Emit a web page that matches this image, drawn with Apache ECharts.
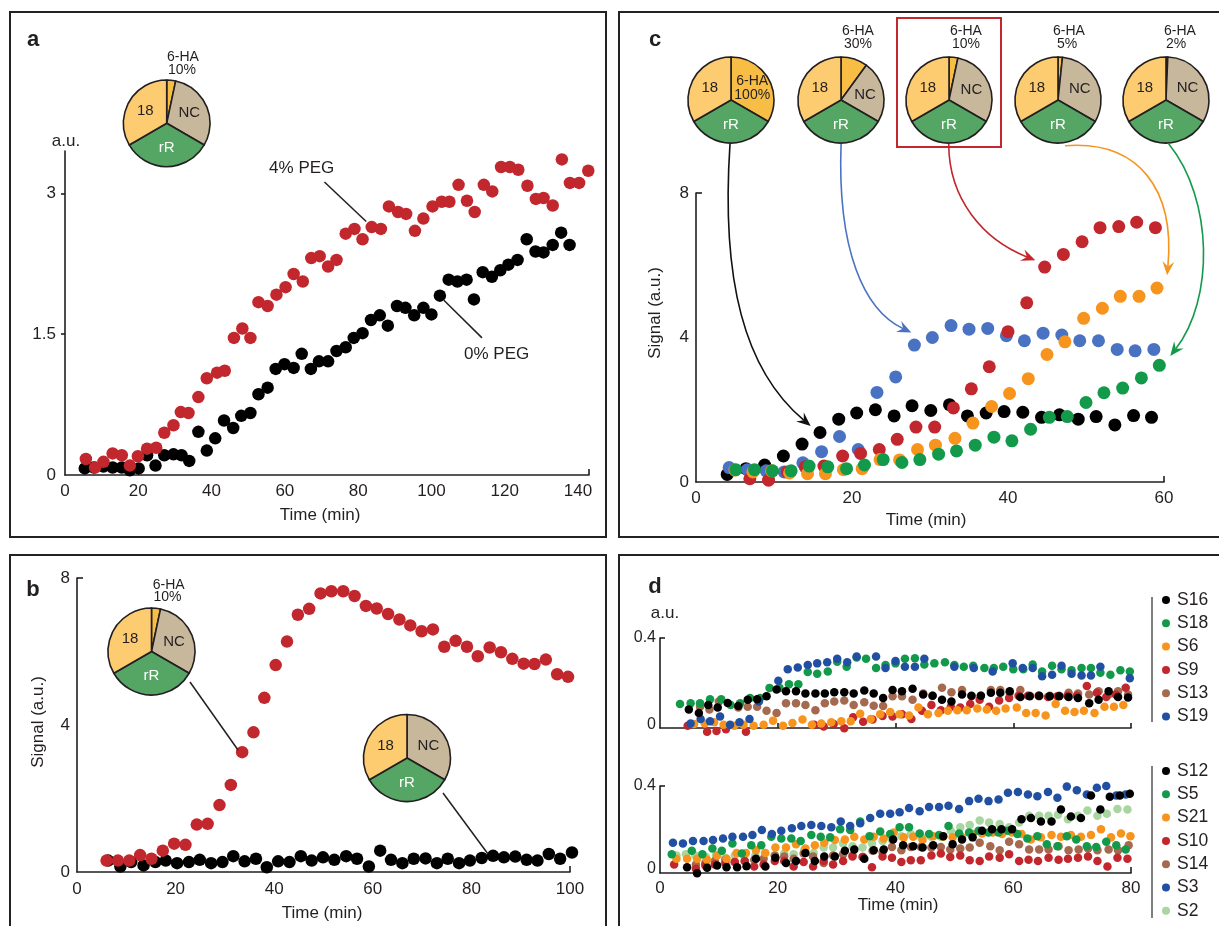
<!DOCTYPE html>
<html><head><meta charset="utf-8">
<script src="https://cdn.jsdelivr.net/npm/echarts@6/dist/echarts.min.js"></script>
<style>html,body{margin:0;padding:0;background:#fff}#c{width:1219px;height:926px}</style>
</head><body><div id="c"></div>
<script>
// ---------- DATA ----------
// panel a (time in min, signal a.u.)
const aTime4 = [5.7,8.2,10.5,13.0,15.5,17.7,19.9,22.4,24.9,27.1,29.6,31.6,33.7,36.4,38.7,41.5,43.6,46.1,48.4,50.6,52.8,55.3,57.7,60.2,62.4,64.9,67.2,69.5,71.8,74.1,76.6,79.0,81.2,83.7,86.2,88.4,90.9,93.1,95.5,97.8,100.3,102.8,104.9,107.4,109.7,111.8,114.3,116.6,119.0,121.4,123.7,126.2,128.5,130.6,133.1,135.6,137.8,140.3,142.8];
const aPeg4 = [0.17,0.08,0.14,0.23,0.21,0.10,0.20,0.28,0.29,0.45,0.53,0.67,0.66,0.83,1.03,1.09,1.11,1.46,1.56,1.46,1.84,1.80,1.92,2.00,2.14,2.06,2.31,2.33,2.22,2.29,2.57,2.62,2.51,2.64,2.62,2.86,2.80,2.78,2.60,2.73,2.86,2.91,2.91,3.09,2.92,2.80,3.09,3.02,3.28,3.28,3.25,3.08,2.94,2.95,2.87,3.36,3.11,3.11,3.24];
const aTime0 = [5.4,7.9,10.5,13.0,15.5,17.7,20.1,22.4,24.7,27.1,29.6,31.8,33.9,36.4,38.7,41.0,43.4,45.9,48.1,50.6,52.8,55.3,57.5,59.9,62.4,64.6,67.1,69.3,71.8,74.1,76.6,78.8,81.2,83.5,85.9,88.1,90.6,92.9,95.3,97.8,100.0,102.3,104.7,107.1,109.6,111.6,114.0,116.5,118.8,121.0,123.5,126.0,128.4,130.6,133.1,135.4,137.7];
const aPeg0 = [0.07,0.08,0.09,0.08,0.08,0.05,0.07,0.21,0.10,0.21,0.22,0.21,0.15,0.46,0.26,0.39,0.58,0.50,0.63,0.66,0.86,0.93,1.13,1.18,1.14,1.29,1.13,1.21,1.21,1.32,1.36,1.46,1.51,1.65,1.70,1.59,1.80,1.78,1.70,1.78,1.71,1.91,2.08,2.06,2.08,1.87,2.16,2.11,2.18,2.24,2.29,2.51,2.38,2.37,2.45,2.58,2.45];
const aXLabels = [0,20,40,60,80,100,120,140];
const aYLabels = [0,1.5,3];

// panel b
const bTimeHA = [6.0,8.3,10.6,12.8,15.1,17.4,19.7,22.0,24.3,26.5,28.9,31.2,33.5,35.8,38.0,40.3,42.6,44.8,47.1,49.4,51.6,54.0,56.3,58.6,60.8,63.1,65.4,67.6,69.9,72.2,74.5,76.8,79.1,81.3,83.7,86.0,88.3,90.6,92.8,95.1,97.4,99.6];
const bSignalHA = [0.31,0.31,0.31,0.46,0.36,0.58,0.77,0.74,1.29,1.31,1.82,2.37,3.26,3.80,4.74,5.63,6.27,7.00,7.16,7.58,7.64,7.64,7.51,7.24,7.17,7.02,6.87,6.71,6.55,6.60,6.13,6.29,6.13,5.87,6.11,5.98,5.80,5.67,5.66,5.78,5.38,5.31];
const bTimeNo = [6.3,8.8,11.0,13.5,15.9,18.0,20.3,22.7,24.9,27.2,29.5,31.7,34.0,36.3,38.5,40.8,43.1,45.4,47.6,49.9,52.2,54.6,56.8,59.2,61.5,63.7,66.0,68.3,70.7,73.0,75.2,77.5,79.7,82.1,84.4,86.6,88.9,91.2,93.4,95.7,98.0,100.4];
const bSignalNo = [0.31,0.15,0.27,0.18,0.27,0.31,0.24,0.27,0.33,0.24,0.27,0.43,0.29,0.36,0.13,0.29,0.27,0.43,0.31,0.40,0.33,0.43,0.36,0.15,0.58,0.33,0.24,0.36,0.37,0.24,0.36,0.24,0.31,0.38,0.44,0.40,0.42,0.33,0.31,0.49,0.36,0.53];
const bXLabels = [0,20,40,60,80,100];
const bYLabels = [0,4,8];

// panel c (6-HA 100%, 30%, 10%, 5%, 2%)
const cTime100 = [4.0,6.4,8.8,11.2,13.6,15.9,18.3,20.6,23.0,25.4,27.7,30.1,32.5,34.8,37.2,39.5,41.9,44.3,46.6,49.0,51.3,53.7,56.1,58.4];
const cSig100 = [0.21,0.37,0.47,0.72,1.05,1.37,1.74,1.91,2.00,1.83,2.11,1.98,2.14,1.83,1.91,1.95,1.93,1.79,1.86,1.74,1.81,1.58,1.84,1.79];
const cTime30 = [4.25,6.6,9.0,11.3,13.7,16.1,18.4,20.8,23.2,25.6,28.0,30.3,32.7,35.0,37.4,39.8,42.1,44.5,46.9,49.2,51.6,54.0,56.3,58.7];
const cSig30 = [0.40,0.34,0.31,0.28,0.53,0.84,1.26,0.90,2.48,2.91,3.79,4.00,4.33,4.23,4.25,4.05,3.91,4.12,4.07,3.91,3.91,3.67,3.63,3.67];
const cTime10 = [6.9,9.3,11.7,14.0,16.4,18.8,21.1,23.5,25.8,28.2,30.6,33.0,35.3,37.6,40.0,42.4,44.7,47.1,49.5,51.8,54.2,56.5,58.9];
const cSig10 = [0.09,0.05,0.28,0.42,0.44,0.72,0.79,0.90,1.18,1.52,1.52,2.05,2.58,3.19,4.16,4.96,5.95,6.30,6.65,7.04,7.07,7.19,7.04];
const cTime5 = [5.0,7.3,9.7,12.0,14.3,16.6,18.9,21.3,23.6,26.1,28.4,30.7,33.2,35.5,37.9,40.2,42.6,45.0,47.3,49.7,52.1,54.4,56.8,59.1];
const cSig5 = [0.33,0.28,0.31,0.25,0.23,0.23,0.34,0.37,0.62,0.61,0.90,1.02,1.21,1.63,2.09,2.45,2.86,3.53,3.88,4.53,4.81,5.14,5.14,5.37];
const cTime2 = [5.1,7.5,9.8,12.2,14.5,16.9,19.3,21.6,24.0,26.4,28.7,31.1,33.4,35.8,38.2,40.5,42.9,45.3,47.6,50.0,52.3,54.7,57.1,59.4];
const cSig2 = [0.34,0.34,0.31,0.31,0.44,0.42,0.37,0.47,0.62,0.54,0.62,0.77,0.86,1.02,1.24,1.14,1.46,1.79,1.81,2.20,2.47,2.60,2.88,3.23];
const cXLabels = [0,20,40,60];
const cYLabels = [0,4,8];
const cPieHA = [100,30,10,5,2];

// panel d, upper group
const dT16 = [4.9,6.6,8.2,9.8,11.5,13.3,14.9,16.5,18.1,19.8,21.4,23.1,24.7,26.4,28.0,29.6,31.3,32.9,34.7,36.3,37.9,39.5,41.1,42.9,44.7,46.3,47.9,49.5,51.3,52.9,54.5,56.2,57.8,59.4,61.2,62.8,64.4,66.2,67.8,69.4,71.0,72.9,74.5,76.2,77.8,79.5];
const dS16 = [0.070,0.054,0.091,0.080,0.100,0.086,0.115,0.118,0.131,0.163,0.155,0.155,0.144,0.144,0.144,0.150,0.150,0.144,0.158,0.144,0.123,0.160,0.155,0.166,0.139,0.134,0.115,0.107,0.139,0.134,0.134,0.147,0.147,0.155,0.128,0.131,0.134,0.131,0.131,0.128,0.123,0.099,0.115,0.155,0.128,0.126];
const dT18 = [3.4,5.2,6.8,8.5,10.4,12.0,13.6,15.3,17.0,18.6,20.3,21.9,23.5,25.1,26.7,28.5,30.1,31.7,33.4,35.0,36.7,38.3,40.0,41.6,43.3,44.9,46.6,48.4,50.0,51.6,53.2,55.1,56.7,58.3,60.0,61.7,63.3,64.9,66.6,68.2,69.9,71.6,73.2,74.8,76.5,78.2,79.8];
const dS18 = [0.096,0.099,0.099,0.118,0.118,0.091,0.099,0.123,0.123,0.170,0.170,0.187,0.187,0.243,0.235,0.246,0.291,0.267,0.310,0.304,0.262,0.275,0.283,0.304,0.307,0.278,0.283,0.288,0.275,0.267,0.272,0.262,0.262,0.267,0.256,0.256,0.278,0.246,0.272,0.256,0.251,0.262,0.262,0.240,0.230,0.251,0.246];
const dT6 = [5.8,7.6,9.2,10.8,12.6,14.2,15.9,17.6,19.2,20.9,22.5,24.2,25.8,27.4,29.1,30.8,32.4,34.0,35.8,37.4,39.1,40.7,42.3,43.9,45.5,47.3,48.9,50.5,52.1,53.9,55.5,57.1,58.7,60.6,62.2,63.8,65.5,67.2,68.8,70.4,72.0,73.8,75.5,77.1,78.7];
const dS6 = [0.003,0.006,0.011,0.0,-0.005,0.0,-0.005,0.0,0.019,-0.005,0.008,0.024,0.0,0.006,0.011,0.016,0.016,0.051,0.027,0.048,0.059,0.048,0.043,0.080,0.048,0.054,0.064,0.067,0.067,0.075,0.070,0.064,0.075,0.080,0.054,0.054,0.043,0.096,0.064,0.059,0.064,0.054,0.083,0.083,0.091];
const dT9 = [4.7,8.0,9.6,11.2,14.6,26.2,27.8,29.5,31.3,32.8,34.5,36.1,37.8,39.5,41.1,42.7,44.5,46.1,47.7,49.4,51.0,52.7,54.3,55.9,57.6,59.3,60.9,62.5,64.3,65.9,67.5,69.2,70.8,72.5,74.2,75.8,77.4,79.1];
const dS9 = [-0.005,-0.032,-0.029,-0.021,-0.032,0.0,-0.008,0.003,-0.016,0.035,0.014,0.024,0.040,0.038,0.048,0.027,0.064,0.091,0.067,0.083,0.080,0.096,0.115,0.083,0.112,0.123,0.134,0.134,0.134,0.128,0.131,0.134,0.134,0.179,0.147,0.128,0.139,0.171];
const dT13 = [6.8,8.4,10.0,13.3,14.9,16.5,18.1,19.8,21.4,23.1,24.7,26.4,28.0,29.6,31.3,32.9,34.7,36.3,37.9,39.5,41.1,42.9,44.7,46.3,47.9,49.5,51.3,52.9,54.5,56.2,57.8,59.4,61.2,62.8,64.4,66.2,67.8,69.4,71.0,72.9,74.5,76.2,77.8,79.5];
const dS13 = [0.083,0.070,0.107,0.080,0.083,0.083,0.064,0.054,0.099,0.099,0.091,0.067,0.099,0.107,0.112,0.091,0.104,0.088,0.086,0.131,0.131,0.115,0.144,0.134,0.171,0.150,0.160,0.131,0.134,0.160,0.160,0.147,0.160,0.134,0.131,0.134,0.134,0.147,0.144,0.139,0.155,0.139,0.155,0.139];
const dT19 = [5.2,6.9,8.5,10.2,11.9,13.5,15.2,16.8,20.1,21.7,23.4,25.1,26.7,28.4,30.1,31.8,33.4,36.7,38.3,40.0,41.6,43.3,44.9,50.0,53.3,56.5,59.9,61.6,63.3,64.9,66.6,68.2,69.9,71.6,73.2,74.8,79.8];
const dS19 = [0.006,0.027,0.016,0.038,0.0,0.011,0.027,0.107,0.203,0.256,0.264,0.275,0.283,0.288,0.304,0.288,0.315,0.315,0.262,0.294,0.267,0.267,0.304,0.267,0.262,0.246,0.283,0.262,0.262,0.224,0.230,0.272,0.235,0.227,0.227,0.267,0.214];
// panel d, lower group
const dT12 = [4.6,6.3,8.0,9.7,11.3,13.1,14.7,16.3,17.9,19.6,21.4,23.1,24.7,26.3,27.9,29.7,31.4,33.0,34.7,36.3,38.0,39.6,41.3,43.0,44.6,46.4,48.1,49.7,51.3,53.1,54.7,56.4,58.0,59.8,61.4,63.0,64.7,66.5,68.1,69.8,71.5,73.2,74.8,76.4,78.1,79.8];
const dS12 = [0.008,-0.021,0.005,0.016,0.008,0.008,0.013,0.049,0.011,0.054,0.028,0.038,0.077,0.038,0.060,0.060,0.087,0.093,0.049,0.090,0.093,0.142,0.114,0.109,0.103,0.114,0.158,0.119,0.142,0.152,0.184,0.191,0.191,0.191,0.240,0.245,0.229,0.229,0.286,0.253,0.245,0.354,0.286,0.348,0.354,0.363];
const dT5 = [2.0,5.4,7.2,8.9,10.5,12.3,13.9,15.5,17.2,18.9,20.6,22.3,23.9,25.7,27.3,28.9,30.6,32.3,34.0,35.6,37.4,39.1,40.7,42.3,44.1,45.7,47.4,49.0,50.8,52.5,54.1,55.8,57.5,59.1,60.7,62.4,64.1,65.7,67.5,69.1,70.7,72.5,74.1,75.8,77.5,79.1];
const dS5 = [0.070,0.087,0.070,0.098,0.087,0.122,0.074,0.114,0.114,0.155,0.147,0.147,0.135,0.163,0.155,0.152,0.191,0.188,0.229,0.158,0.180,0.168,0.201,0.201,0.171,0.168,0.163,0.207,0.171,0.175,0.184,0.175,0.175,0.184,0.168,0.147,0.158,0.119,0.109,0.158,0.142,0.109,0.106,0.131,0.114,0.093];
const dT21 = [2.8,4.6,6.3,8.0,9.7,11.3,13.0,14.6,16.3,17.9,19.6,21.4,23.1,24.7,26.3,27.9,29.7,31.4,33.0,34.7,36.3,38.0,39.7,41.4,43.0,44.6,46.4,48.1,49.7,51.3,53.1,54.7,56.5,58.1,59.8,61.4,63.0,64.7,66.5,68.1,69.8,71.5,73.2,74.9,76.6,78.3,79.9];
const dS21 = [0.049,0.049,0.049,0.044,0.065,0.049,0.077,0.077,0.090,0.077,0.103,0.103,0.119,0.098,0.114,0.126,0.139,0.142,0.155,0.142,0.155,0.147,0.175,0.152,0.155,0.139,0.158,0.155,0.152,0.152,0.168,0.171,0.175,0.168,0.175,0.168,0.142,0.152,0.163,0.155,0.163,0.155,0.163,0.191,0.152,0.171,0.158];
const dT10 = [2.4,6.1,7.7,9.3,11.1,12.7,14.4,16.0,17.6,19.5,21.1,22.7,24.4,26.0,27.8,29.4,31.1,32.7,34.4,36.0,37.8,39.4,41.0,42.6,44.3,46.1,47.7,49.3,51.0,52.6,54.3,55.9,57.7,59.3,61.0,62.6,64.2,66.0,67.7,69.3,71.0,72.7,74.3,76.0,77.7,79.4];
const dS10 = [0.021,0.0,0.016,0.021,0.028,0.033,0.038,0.011,0.021,0.038,0.038,0.011,0.033,0.011,0.038,0.021,0.038,0.060,0.057,0.008,0.060,0.054,0.033,0.041,0.041,0.065,0.074,0.057,0.065,0.041,0.038,0.060,0.054,0.070,0.038,0.044,0.038,0.054,0.044,0.049,0.054,0.060,0.038,0.011,0.054,0.049];
const dT14 = [6.1,7.7,9.3,11.1,12.7,14.4,16.0,17.6,19.5,21.1,22.7,24.4,26.0,27.8,29.4,31.1,32.7,34.5,36.1,37.8,39.4,41.0,42.6,44.3,46.1,47.7,49.3,51.0,52.6,54.3,56.1,57.7,59.3,61.0,62.7,64.4,66.0,67.7,69.4,71.1,72.7,74.3,76.2,77.8,79.6];
const dS14 = [0.021,0.028,0.038,0.044,0.033,0.038,0.044,0.049,0.065,0.060,0.049,0.074,0.060,0.028,0.065,0.070,0.065,0.057,0.087,0.082,0.106,0.090,0.106,0.106,0.103,0.106,0.093,0.098,0.103,0.126,0.109,0.090,0.131,0.119,0.093,0.093,0.093,0.109,0.090,0.093,0.098,0.090,0.093,0.090,0.114];
const dT3 = [2.2,3.9,5.6,7.4,9.0,10.7,12.3,14.1,15.7,17.3,19.0,20.6,22.4,24.0,25.7,27.4,29.1,30.7,32.3,34.0,35.7,37.4,39.1,40.7,42.3,44.1,45.7,47.4,49.0,50.8,52.5,54.1,55.8,57.5,59.1,60.8,62.5,64.1,65.9,67.5,69.1,70.8,72.5,74.2,75.8,77.5,79.1];
const dS3 = [0.126,0.122,0.135,0.135,0.139,0.147,0.155,0.155,0.163,0.188,0.168,0.184,0.196,0.207,0.212,0.207,0.201,0.229,0.207,0.220,0.245,0.266,0.266,0.273,0.294,0.278,0.299,0.299,0.305,0.289,0.327,0.338,0.327,0.335,0.367,0.371,0.359,0.351,0.371,0.343,0.397,0.380,0.359,0.392,0.400,0.354,0.359];
const dT2 = [2.8,4.4,6.0,7.8,9.5,11.1,12.7,14.5,16.2,17.8,19.5,21.1,22.7,24.5,26.1,27.8,29.4,31.1,32.7,34.4,36.0,37.8,39.4,41.0,42.6,44.4,46.0,47.7,49.4,51.0,52.6,54.3,55.9,57.7,59.3,61.0,62.7,64.4,66.0,67.6,69.3,71.0,72.6,74.3,75.9,77.7,79.4];
const dS2 = [0.065,0.070,0.065,0.057,0.065,0.054,0.065,0.074,0.065,0.077,0.065,0.074,0.070,0.090,0.077,0.103,0.103,0.122,0.109,0.103,0.122,0.135,0.139,0.158,0.168,0.152,0.155,0.155,0.184,0.201,0.212,0.233,0.224,0.217,0.201,0.224,0.256,0.256,0.256,0.261,0.240,0.256,0.282,0.256,0.266,0.289,0.286];
const dXLabels = [0,20,40,60,80];
const dYLabels = [0,0.4];
const dUpperNames = ['S16','S18','S6','S9','S13','S19'];
const dLowerNames = ['S12','S5','S21','S10','S14','S3','S2'];

// pie composition (thirds): 6-HA share of the NC third, NC, rR, 18
const pieParts = ['6-HA','NC','rR','18'];

// ---------- STYLE ----------
const F = '"Liberation Sans", Arial, Helvetica, sans-serif';
const INK = '#231F20';
const RED = '#C1272D', BLUE = '#4A72C2', ORANGE = '#F7941D', GREEN = '#129A4A';
const DBLUE = '#2150A2', BROWN = '#A5694F', LGREEN = '#A8D5A0';
const pieColors = ['#F8BD45','#C7B79B','#55A564','#FDCC70'];

const zip = (xs, ys) => xs.map((x, i) => [x, ys[i]]);

function xAx(gi, min, max, labels, ticks, o) {
  o = o || {};
  return {type:'value', gridIndex:gi, min, max, interval:o.interval,
    splitLine:{show:false},
    axisLine:{onZero:false, lineStyle:{color:INK, width:1.6}},
    axisTick:{show:ticks.length>0, inside:true, length:o.tl||6, customValues:ticks, lineStyle:{color:INK, width:1.6}},
    axisLabel:{show:labels.length>0, customValues:labels, fontSize:o.fs||17, color:INK, fontFamily:F, margin:o.m||8,
      formatter:v => labels.indexOf(+v) >= 0 ? String(v) : ''}};
}
function yAx(gi, min, max, labels, ticks, o) {
  o = o || {};
  return {type:'value', gridIndex:gi, min, max, interval:o.interval,
    splitLine:{show:false},
    axisLine:{onZero:false, lineStyle:{color:INK, width:1.6}},
    axisTick:{show:ticks.length>0, inside:o.out ? false : true, length:o.tl||6, customValues:ticks, lineStyle:{color:INK, width:1.6}},
    axisLabel:{show:labels.length>0, customValues:labels, fontSize:o.fs||17, color:INK, fontFamily:F, margin:o.m||8,
      formatter:v => labels.indexOf(+v) >= 0 ? String(v) : ''}};
}
function sc(name, gi, xs, ys, color, size, z) {
  return {type:'scatter', name, xAxisIndex:gi, yAxisIndex:gi, data:zip(xs, ys), symbolSize:size,
    itemStyle:{color, opacity:1}, clip:false, silent:true, z:z||2};
}
function pie(cx, cy, r, ha) {
  const shares = [ha/100, 1 - ha/100, 1, 1];
  const data = pieParts.map((name, i) => ({
    name, value:shares[i], itemStyle:{color:pieColors[i]},
    label:{show: name === '6-HA' ? ha === 100 : true,
      formatter: name === '6-HA' ? '6-HA\n100%' : name,
      color: name === 'rR' ? '#fff' : INK,
      fontSize: name === '6-HA' ? 14 : 15, lineHeight: 14, fontFamily:F}
  })).filter(d => d.value > 0);
  return {type:'pie', center:[cx, cy], radius:r, startAngle:90, clockwise:true, silent:true,
    avoidLabelOverlap:false, labelLine:{show:false}, label:{position:'inside'},
    itemStyle:{borderColor:INK, borderWidth:1.6}, emphasis:{disabled:true}, data, z:5};
}
function legendBox(names, top) {
  return {data:names, orient:'vertical', left:1162, top, padding:0, icon:'circle', itemWidth:8, itemHeight:8, itemGap:5.3,
    selectedMode:false, textStyle:{fontSize:17.5, lineHeight:18, color:INK, fontFamily:F, padding:[0,0,0,2]}};
}

const option = {
  animation:false,
  backgroundColor:'#fff',
  textStyle:{fontFamily:F},
  grid:[
    {left:65, top:151, width:524, height:324},
    {left:77, top:578, width:493, height:294},
    {left:696, top:193, width:468, height:289},
    {left:660, top:638, width:471, height:90},
    {left:660, top:786, width:471, height:87}
  ],
  xAxis:[
    xAx(0, 0, 143, aXLabels, [143], {interval:20, m:8}),
    xAx(1, 0, 100, bXLabels, [100], {interval:20, m:9}),
    xAx(2, 0, 60, cXLabels, [60], {interval:20, m:8}),
    xAx(3, 0, 80, [], [20,40,60,80], {interval:20, tl:5}),
    xAx(4, 0, 80, dXLabels, [80], {interval:20, m:7, fs:17})
  ],
  yAxis:[
    yAx(0, 0, 3.45, aYLabels, [1.5,3], {interval:1.5, out:true, tl:4, m:9}),
    yAx(1, 0, 8, bYLabels, [8], {interval:4, m:7}),
    yAx(2, 0, 8, cYLabels, [8], {interval:4, m:7}),
    yAx(3, -0.015, 0.4, dYLabels, [0.4], {m:4, fs:16, tl:5}),
    yAx(4, -0.02, 0.4, dYLabels, [0.4], {m:4, fs:16, tl:5})
  ],
  legend:[ legendBox(dUpperNames, 591), legendBox(dLowerNames, 762) ],
  series:[
    sc('0% PEG', 0, aTime0, aPeg0, '#000', 12.5),
    sc('4% PEG', 0, aTime4, aPeg4, RED, 12.5, 3),
    sc('b no', 1, bTimeNo, bSignalNo, '#000', 12.5),
    sc('b 10%', 1, bTimeHA, bSignalHA, RED, 12.5, 3),
    sc('c100', 2, cTime100, cSig100, '#000', 13),
    sc('c30', 2, cTime30, cSig30, BLUE, 13),
    sc('c10', 2, cTime10, cSig10, RED, 13),
    sc('c5', 2, cTime5, cSig5, ORANGE, 13),
    sc('c2', 2, cTime2, cSig2, GREEN, 13),
    sc('S13', 3, dT13, dS13, BROWN, 8.5),
    sc('S9', 3, dT9, dS9, RED, 8.5),
    sc('S6', 3, dT6, dS6, ORANGE, 8.5),
    sc('S18', 3, dT18, dS18, GREEN, 8.5),
    sc('S19', 3, dT19, dS19, DBLUE, 8.5),
    sc('S16', 3, dT16, dS16, '#000', 8.5),
    sc('S2', 4, dT2, dS2, LGREEN, 8.5),
    sc('S14', 4, dT14, dS14, BROWN, 8.5),
    sc('S10', 4, dT10, dS10, RED, 8.5),
    sc('S21', 4, dT21, dS21, ORANGE, 8.5),
    sc('S5', 4, dT5, dS5, GREEN, 8.5),
    sc('S3', 4, dT3, dS3, DBLUE, 8.5),
    sc('S12', 4, dT12, dS12, '#000', 8.5),
    pie(166.7, 123.3, 43.3, 10),
    pie(151.5, 651.5, 43.5, 10),
    pie(407, 758, 43.5, 0),
    pie(731, 100, 43, cPieHA[0]),
    pie(841, 100, 43, cPieHA[1]),
    pie(949, 100, 43, cPieHA[2]),
    pie(1058, 100, 43, cPieHA[3]),
    pie(1166, 100, 43, cPieHA[4])
  ]
};

const chart = echarts.init(document.getElementById('c'), null, {renderer:'canvas', width:1219, height:926});
chart.setOption(option);

const P = (gi, pt) => chart.convertToPixel({gridIndex:gi}, pt);

function txt(x, y, text, size, o) {
  o = o || {};
  return {type:'text', x, y, rotation:o.rot||0, z:10, style:{text, fill:o.color||INK, fontSize:size, fontFamily:F,
    fontWeight:o.bold?'bold':'normal', align:o.align||'center', verticalAlign:'middle',
    textAlign:o.align||'center', textVerticalAlign:'middle'}};
}
function line(p, q, color, w) {
  return {type:'line', z:10, shape:{x1:p[0], y1:p[1], x2:q[0], y2:q[1]}, style:{stroke:color||INK, lineWidth:w||1.5}};
}
function rect(x, y, w, h, color, lw) {
  return {type:'rect', z:10, shape:{x, y, width:w, height:h}, style:{fill:null, stroke:color, lineWidth:lw}};
}
function arrow(pts, color) {
  const [p0, c1, c2, t] = pts;
  let dx = t[0]-c2[0], dy = t[1]-c2[1];
  const L = Math.hypot(dx, dy); dx /= L; dy /= L;
  const nx = -dy, ny = dx, hl = 14, hw = 6, notch = 9;
  const e = [t[0]-dx*notch, t[1]-dy*notch];
  return [
    {type:'bezierCurve', z:10, shape:{x1:p0[0], y1:p0[1], cpx1:c1[0], cpy1:c1[1], cpx2:c2[0], cpy2:c2[1], x2:e[0], y2:e[1]},
     style:{stroke:color, lineWidth:1.6, fill:null}},
    {type:'polygon', z:10, shape:{points:[t, [t[0]-dx*hl+nx*hw, t[1]-dy*hl+ny*hw], e, [t[0]-dx*hl-nx*hw, t[1]-dy*hl-ny*hw]]},
     style:{fill:color}}
  ];
}

const cArrows = [
  [[[4.36,9.36],[3.2,5.6],[6.15,3.1],[14.7,1.55]], '#111'],
  [[[18.6,9.36],[18.1,6.43],[21.5,4.76],[27.6,4.14]], BLUE],
  [[[32.4,9.36],[32.4,7.81],[36.9,6.70],[43.5,6.14]], RED],
  [[[47.3,9.31],[56.8,9.47],[61.4,8.09],[60.4,5.72]], ORANGE],
  [[[60.6,9.36],[66.4,7.81],[66.4,5.04],[60.8,3.49]], GREEN]
];

let g = [
  // panel frames
  rect(10, 12, 596, 525, '#222', 2),
  rect(619, 12, 640, 525, '#222', 2),
  rect(10, 555, 596, 400, '#222', 2),
  rect(619, 555, 640, 400, '#222', 2),
  rect(897, 18, 104, 129, RED, 2),
  // panel letters
  txt(33, 40, 'a', 22, {bold:true}), txt(33, 590, 'b', 22, {bold:true}),
  txt(655, 40, 'c', 22, {bold:true}), txt(655, 587, 'd', 22, {bold:true}),
  // axis titles
  txt(66, 141, 'a.u.', 17), txt(320, 515, 'Time (min)', 17),
  txt(322, 913, 'Time (min)', 17), txt(38, 722, 'Signal (a.u.)', 17, {rot:Math.PI/2}),
  txt(926, 520, 'Time (min)', 17), txt(655, 313, 'Signal (a.u.)', 17, {rot:Math.PI/2}),
  txt(665, 613, 'a.u.', 17), txt(898, 905, 'Time (min)', 17),
  // pie headers
  txt(183, 57, '6-HA', 14), txt(182, 70.5, '10%', 14),
  txt(168.7, 585, '6-HA', 14), txt(167.5, 597.5, '10%', 14),
  txt(858, 31, '6-HA', 14), txt(858, 44, cPieHA[1] + '%', 14),
  txt(966, 31, '6-HA', 14), txt(966, 44, cPieHA[2] + '%', 14),
  txt(1069, 31, '6-HA', 14), txt(1067, 44, cPieHA[3] + '%', 14),
  txt(1180, 31, '6-HA', 14), txt(1176, 44, cPieHA[4] + '%', 14),
  // panel a annotations
  (() => { const p = P(0, [64.6, 3.27]); return txt(p[0], p[1], '4% PEG', 17); })(),
  line(P(0, [70.8, 3.12]), P(0, [82.2, 2.70])),
  (() => { const p = P(0, [117.8, 1.28]); return txt(p[0], p[1], '0% PEG', 17); })(),
  line(P(0, [103.4, 1.86]), P(0, [113.8, 1.46])),
  // panel b leaders
  line([190, 682], [238, 750]),
  line([443, 793], [488, 854]),
  // legend separators in d
  line([1152, 597], [1152, 722], '#555', 1.5),
  line([1152, 766], [1152, 918], '#555', 1.5)
];
cArrows.forEach(([pts, col]) => { g = g.concat(arrow(pts.map(p => P(2, p)), col)); });
chart.setOption({graphic:{elements:g}});
</script></body></html>
